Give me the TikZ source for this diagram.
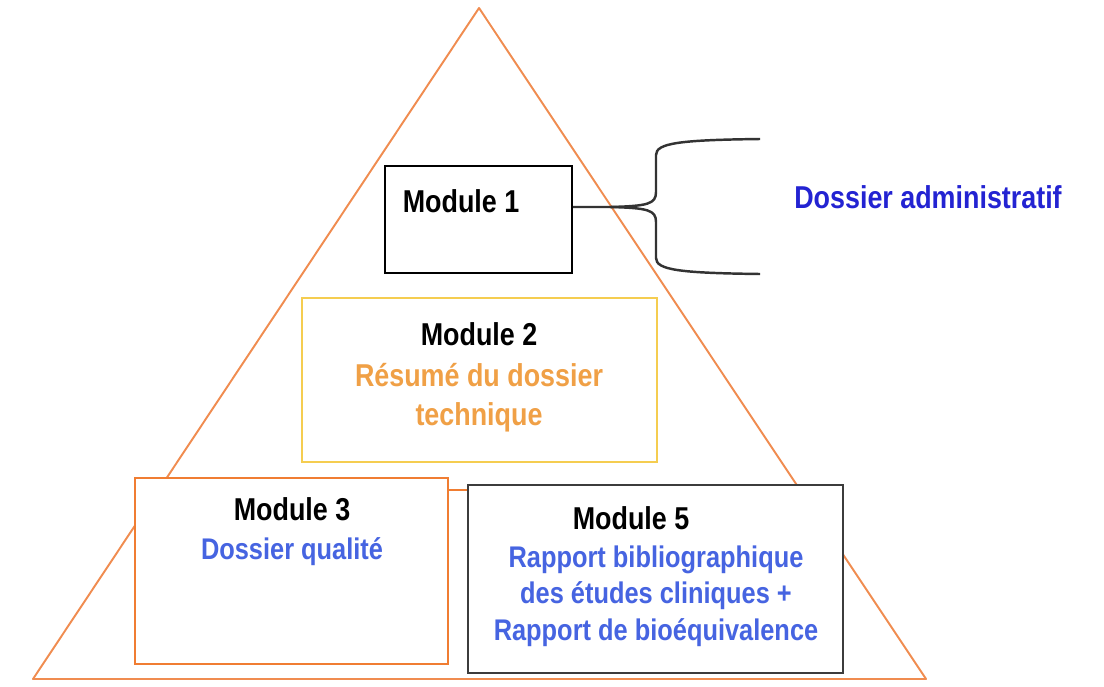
\documentclass[tikz,border=0pt]{standalone}
\usepackage{fontspec}
\setmainfont{Liberation Sans}[FakeStretch=0.85]
\usetikzlibrary{positioning}

\definecolor{triorange}{RGB}{240,140,80}
\definecolor{boxorange}{RGB}{240,125,50}
\definecolor{boxyellow}{RGB}{245,205,80}
\definecolor{txtorange}{RGB}{240,160,70}
\definecolor{boxgray}{RGB}{60,60,60}
\definecolor{txtblue}{RGB}{70,100,225}
\definecolor{darkblue}{RGB}{35,35,210}

\begin{document}
\begin{tikzpicture}[
        x=0.02cm, y=-0.02cm,
        box/.style={draw, fill=white, line width=1.5pt, inner sep=0pt},
        title/.style={font=\fontsize{18}{22}\selectfont\bfseries, text=black},
        sub/.style={font=\fontsize{17}{20.7}\selectfont\bfseries, text=txtblue, align=center},
        brace/.style={black!80, line width=1.4pt}
    ]
    \useasboundingbox (0,0) rectangle (1104,686);
    % pyramid
    \coordinate (top) at (479,8);
    \coordinate (br) at (926,679);
    \coordinate (bl) at (33,679);
    \draw[triorange, line width=1.1pt, line join=round] (top) -- (br) -- (bl) -- cycle;
    \draw[triorange, line width=1.6pt] (bl) -- (br);

    \node[box, draw=black, line width=1.4pt, minimum width=3.74cm, minimum height=2.14cm] (m1) at (478.5,219.5) {};
    \node[box, draw=boxyellow, minimum width=7.1cm, minimum height=3.28cm] (m2) at (479.5,380) {};
    \node[box, draw=boxorange, minimum width=6.26cm, minimum height=3.72cm] (m3) at (291.5,571) {};
    \node[box, draw=boxgray, minimum width=7.5cm, minimum height=3.76cm] (m5) at (655.5,579) {};

    \node[title] (m1t) at (461,201) {Module 1};
    \node[title] (m2t) at (479,334) {Module 2};
    \node[title, text=txtorange, align=center, font=\fontsize{18}{22.4}\selectfont\bfseries] (m2s) at (479,398) {Résumé du dossier\\technique};
    \node[title] (m3t) at (292,509) {Module 3};
    \node[sub] (m3s) at (292,552) {Dossier qualité};
    \node[title] (m5t) at (631,518) {Module 5};
    \node[sub] (m5s) at (656,596) {Rapport bibliographique\\des études cliniques +\\Rapport de bioéquivalence};

    \coordinate (j) at ([yshift=-0.26cm]m3.north east);
    \draw[boxorange, line width=1.3pt] (j) -- (j -| m5.west);

    % brace to the admin dossier
    \coordinate (bs) at ([yshift=0.25cm]m1.east);
    \coordinate (bm) at (610,207);
    \coordinate (bt) at (760,139);
    \coordinate (bb) at (760,274);
    \draw[brace] (bs) -- (bm)
        .. controls (648,206) and (656,204) .. (656,192) -- (656,155)
        .. controls (656,143) and (680,140) .. (bt);
    \draw[brace] (bm)
        .. controls (648,208) and (656,210) .. (656,222) -- (656,258)
        .. controls (656,270) and (680,273) .. (bb);
    \node[title, text=darkblue] (adm) at (928,197) {Dossier administratif};
\end{tikzpicture}
\end{document}
